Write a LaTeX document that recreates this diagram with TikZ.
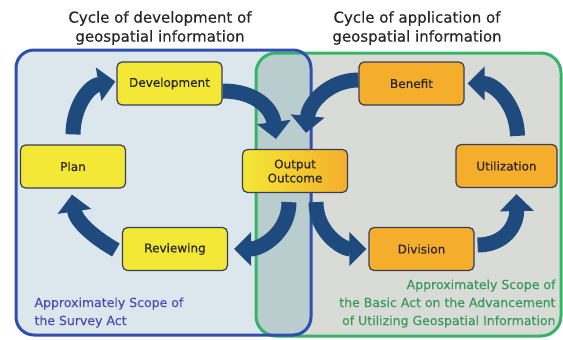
\documentclass[tikz,border=0pt]{standalone}
\usepackage{fontspec}
\setmainfont{DejaVu Sans}[FakeBold=0.35]
\usetikzlibrary{arrows.meta}
\definecolor{bluebd}{HTML}{2F4EAE}
\definecolor{greenbd}{HTML}{35B468}
\definecolor{bluefill}{HTML}{DCE7ED}
\definecolor{greenfill}{HTML}{D9DCD6}
\definecolor{overfill}{HTML}{B9CDCE}
\definecolor{ynodefill}{HTML}{F3E836}
\definecolor{onodefill}{HTML}{F5AE2C}
\definecolor{nodebd}{HTML}{3A3D58}
\definecolor{arrcol}{HTML}{1F4A7E}
\definecolor{titlecol}{HTML}{262626}
\definecolor{leftlab}{HTML}{4A4EB2}
\definecolor{rightlab}{HTML}{3A9A5E}
\begin{document}
\begin{tikzpicture}[x=1pt,y=-1pt,
  boxnode/.style={draw=nodebd, line width=1.2pt, rounded corners=5pt,
    minimum width=105pt, minimum height=43pt, inner sep=0pt,
    font=\fontsize{12}{14}\selectfont, text=titlecol, align=center},
  ynode/.style={boxnode, fill=ynodefill},
  onode/.style={boxnode, fill=onodefill},
  arr/.style={draw=arrcol, line width=15pt,
    -{Triangle[width=33pt,length=17pt]}},
  title/.style={font=\fontsize{15}{19}\selectfont, text=titlecol, align=center},
]
\useasboundingbox (0,0) rectangle (563,340);
% scope regions
\fill[greenfill, rounded corners=20pt] (256,53) rectangle (561,336);
\fill[bluefill, rounded corners=18pt] (16,50) rectangle (311,335);
\begin{scope}
  \clip[rounded corners=18pt] (16,50) rectangle (311,335);
  \fill[overfill, rounded corners=20pt] (256,53) rectangle (561,336);
\end{scope}
\draw[greenbd, line width=3pt, rounded corners=20pt] (256,53) rectangle (561,336);
\draw[bluebd, line width=3pt, rounded corners=18pt] (16,50) rectangle (311,335);

% titles
\node[title] (t1) at (160,28) {Cycle of development of\\geospatial information};
\node[title] (t2) at (417,28) {Cycle of application of\\geospatial information};

% nodes
\node[ynode] (dev) at (169.5,83.5) {Development};
\node[ynode] (plan) at (73,166.5) {Plan};
\node[ynode] (rev) at (175,249) {Reviewing};
\node[boxnode, left color=ynodefill, right color=onodefill] (out) at (295,171) {Output\\Outcome};
\node[onode] (ben) at (411.5,83.5) {Benefit};
\node[onode, minimum width=101pt] (util) at (506.5,166) {Utilization};
\node[onode] (div) at (421.5,249) {Division};

% arrows
\draw[arr] ([xshift=0pt,yshift=10pt]plan.north) .. controls (73,108) and (88,86) .. ([xshift=-1pt,yshift=2pt]dev.west);
\draw[arr] ([yshift=-7.5pt]dev.east) .. controls (255,91) and (272,108) .. ([xshift=-19pt,yshift=10pt]out.north);
\draw[arr] ([yshift=3.5pt]ben.west) .. controls (330,80) and (309,102) .. ([xshift=11pt,yshift=16pt]out.north);
\draw[arr] ([xshift=-6pt,yshift=-9pt]out.south) .. controls (289,232) and (262,249) .. ([xshift=6pt]rev.east);
\draw[arr] ([xshift=21pt,yshift=-9pt]out.south) .. controls (316,232) and (342,249) .. ([xshift=-2pt]div.west);
\draw[arr] ([xshift=-6pt,yshift=-1pt]rev.west) .. controls (95,238) and (76,222) .. ([xshift=-1pt,yshift=-6pt]plan.south);
\draw[arr] ([xshift=3pt,yshift=4pt]div.east) .. controls (505,245) and (517,225) .. ([xshift=10pt,yshift=-6pt]util.south);
\draw[arr] ([xshift=11pt,yshift=8pt]util.north) .. controls (517,105) and (495,83.5) .. ([xshift=3pt]ben.east);

% scope labels
\node[font=\fontsize{12.5}{18}\selectfont, text=leftlab, align=left, anchor=north west] (l1) at (31,294) {Approximately Scope of\\the Survey Act};
\node[font=\fontsize{12.5}{18}\selectfont, text=rightlab, align=right, anchor=north east] (l2) at (559,276) {Approximately Scope of\\the Basic Act on the Advancement\\of Utilizing Geospatial Information};
\end{tikzpicture}
\end{document}
